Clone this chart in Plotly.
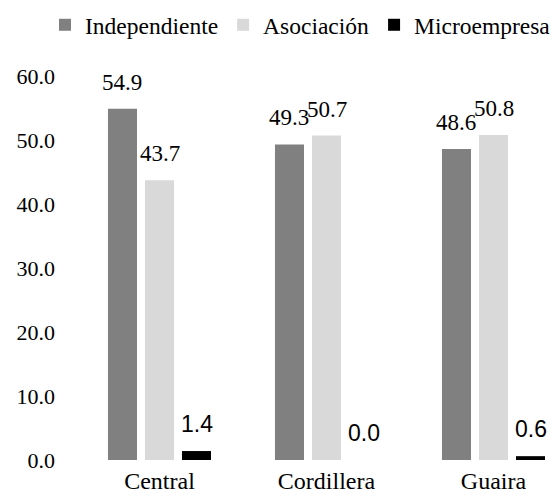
import plotly.graph_objects as go

categories = ["Central", "Cordillera", "Guaira"]
series_names = ["Independiente", "Asociación", "Microempresa"]
independiente = [54.9, 49.3, 48.6]
asociacion = [43.7, 50.7, 50.8]
microempresa = [1.4, 0.0, 0.6]
y_ticks = [0, 10, 20, 30, 40, 50, 60]
y_tick_labels = ["0.0", "10.0", "20.0", "30.0", "40.0", "50.0", "60.0"]

colors = ["#808080", "#d9d9d9", "#000000"]
label_fonts = ["Liberation Serif", "Liberation Serif", "Liberation Sans"]
series_values = [independiente, asociacion, microempresa]

SERIF = "Liberation Serif"
W, H = 552, 497
ML, MR, MT, MB = 76, 4, 76, 37
plot_w = W - ML - MR
plot_h = H - MT - MB
cat_px = 167.0
x_end = -0.5 + plot_w / cat_px

BARGAP = 0.335
BARGROUPGAP = 0.216

fig = go.Figure()
for name, vals, col in zip(series_names, series_values, colors):
    fig.add_trace(go.Bar(
        name=name, x=categories, y=vals,
        marker=dict(color=col, line=dict(width=0)),
        hoverinfo="x+y",
    ))

# data labels, placed above each bar
slot = (1 - BARGAP) / len(series_values)
annotations = []
for k, (vals, fnt) in enumerate(zip(series_values, label_fonts)):
    off = (k - (len(series_values) - 1) / 2) * slot
    for i, v in enumerate(vals):
        annotations.append(dict(
            x=i + off, y=v, xref="x", yref="y",
            text=f"{v:.1f}", showarrow=False,
            xanchor="center", yanchor="bottom", yshift=12,
            font=dict(family=fnt, size=23, color="#000000"),
        ))

fig.update_layout(
    width=W, height=H,
    margin=dict(l=ML, r=MR, t=MT, b=MB, pad=0, autoexpand=False),
    paper_bgcolor="white", plot_bgcolor="white",
    barmode="group", bargap=BARGAP, bargroupgap=BARGROUPGAP,
    showlegend=True,
    legend=dict(
        orientation="h", x=(45 - ML) / plot_w, xanchor="left",
        y=1 + (MT - 3) / plot_h, yanchor="top",
        font=dict(family=SERIF, size=23.5, color="#000000"),
        traceorder="normal", itemclick=False,
    ),
    annotations=annotations,
    font=dict(family=SERIF, color="#000000"),
)
fig.update_xaxes(
    type="category", range=[-0.5, x_end],
    showgrid=False, showline=False, zeroline=False, ticks="",
    ticklabelstandoff=4,
    tickfont=dict(family=SERIF, size=24, color="#000000"),
)
fig.update_yaxes(
    range=[0, 60], tickvals=y_ticks, ticktext=y_tick_labels,
    showgrid=False, showline=False, zeroline=False, ticks="",
    ticklabelstandoff=20,
    tickfont=dict(family=SERIF, size=22, color="#000000"),
)

fig.write_html("out.html", config={"displayModeBar": False},
               post_script="document.body.style.margin='0';")
